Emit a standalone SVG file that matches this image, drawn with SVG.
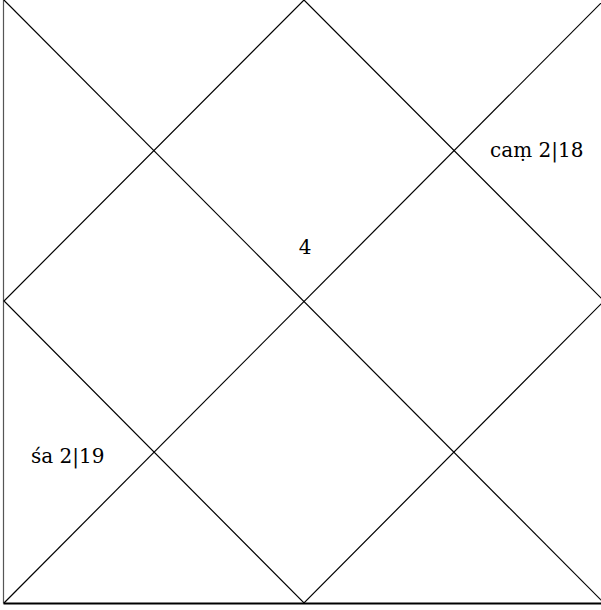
<svg xmlns="http://www.w3.org/2000/svg" width="601" height="610" viewBox="0 0 601 610">
<style>
.ln{stroke:#000;stroke-width:1.2;fill:none}
.t{font-family:"DejaVu Serif","Liberation Serif",serif;font-size:20px;fill:#000}
</style>
<rect width="601" height="610" fill="#fff"/>
<g id="connectors">
<line class="ln" x1="3.5" y1="0" x2="3.5" y2="603.5" style="stroke:#555"/>
<line class="ln" x1="3.5" y1="603.5" x2="605" y2="603.5" style="stroke-width:1.8"/>
<line class="ln" x1="4" y1="0" x2="604" y2="603"/>
<line class="ln" x1="604" y1="0" x2="4" y2="603"/>
<polygon class="ln" points="304,0 4,301 304,603 604,301"/>
</g>
<g id="house1"><text class="t" x="305" y="254" text-anchor="middle">4</text></g>
<g id="house12"><text class="t" x="490" y="157">caṃ 2|18</text></g>
<g id="house5"><text class="t" x="31" y="463">śa 2|19</text></g>
</svg>
